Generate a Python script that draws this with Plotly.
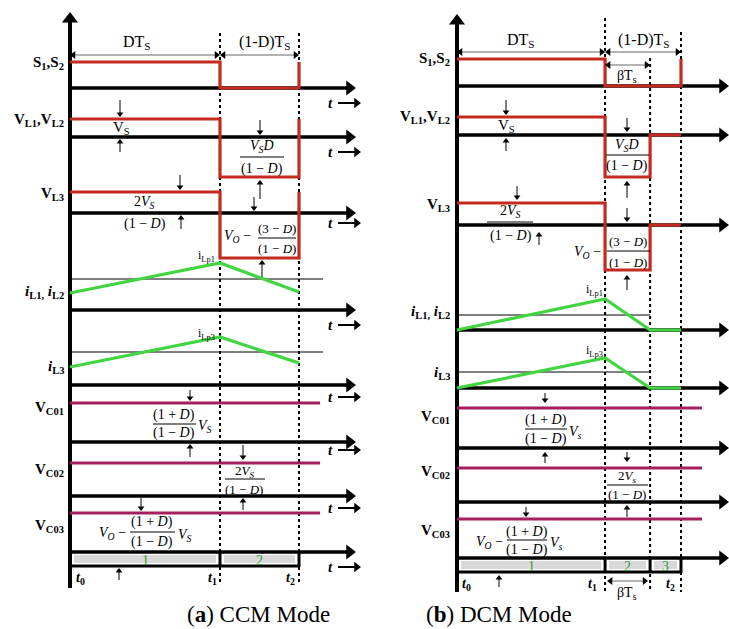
import plotly.graph_objects as go

# ---------------- data (time in units of Ts) ----------------
ccm_times = [0.0, 0.655, 1.0]                 # t0, t1, t2
dcm_times = [0.0, 0.661, 0.862, 1.0]          # t0, t1, t1+βTs, t2

row_labels = ["<b>S<sub>1</sub>,S<sub>2</sub></b>",
              "<b>V<sub>L1</sub>,V<sub>L2</sub></b>",
              "<b>V<sub>L3</sub></b>",
              "<b><i>i</i><sub>L1,</sub> <i>i</i><sub>L2</sub></b>",
              "<b><i>i</i><sub>L3</sub></b>",
              "<b>V<sub>C01</sub></b>",
              "<b>V<sub>C02</sub></b>",
              "<b>V<sub>C03</sub></b>"]

# levels per interval (diagram units above each row's time axis)
ccm_S = [26, 0]
ccm_VL12 = [18, -40]
ccm_VL3 = [21, -45]
dcm_S = [27, 0, 0]
dcm_VL12 = [18, -42, 0]
dcm_VL3 = [22, -45, 0]

# inductor currents at each time instant, and their average levels
ccm_iL12 = [17, 47, 18]
ccm_iL3 = [18, 48, 22]
ccm_iL_avg = [31, 33]
dcm_iL12 = [0, 31, 0, 0]
dcm_iL3 = [0, 30, 0, 0]
dcm_iL_avg = [15, 16]

# capacitor voltages (constant)
ccm_VC = [39, 33, 39]
dcm_VC = [40, 34, 39]

ccm_intervals = ["1", "2"]
dcm_intervals = ["1", "2", "3"]

# ---------------- style / layout ----------------
W, H = 729, 629
FONT = "Liberation Serif"
RED = "#c42b1f"
GREEN = "#41d641"
MAG = "#a61f5c"
GRAYFILL = "#d9d9d9"
LBLGREEN = "#2e9e38"

PA = dict(xa="x", org=70, span=229, lo=0, hi=364,
          rows=[88, 137, 213, 310, 385, 442, 496, 552],
          label_y=[63, 120, 194, 292, 367, 408, 470, 526], label_x=66,
          tip=356, vtop=12, vbot=588, dot_top=[None, 33, 33], dot_bot=585,
          vc_end=1.092, avg_end=1.105, bar_h=14, tlab_x=326, t_partial=False)
PB = dict(xa="x2", org=457, span=224, lo=364, hi=729,
          rows=[86, 135, 225, 330, 388, 448, 502, 558],
          label_y=[59, 117, 205, 312, 373, 417, 472, 531], label_x=452,
          tip=729, vtop=14, vbot=592, dot_top=[None, 18, 58, 32], dot_bot=592,
          vc_end=1.094, avg_end=None, bar_h=14, tlab_x=723, t_partial=True)


def T(p, px):
    return (px - p["org"]) / p["span"]


fig = go.Figure()
ann = []
shapes = []


def add_line(p, xs, ys, color, width, dash=None):
    fig.add_trace(go.Scatter(x=xs, y=ys, xaxis=p["xa"], yaxis="y", mode="lines",
                             line=dict(color=color, width=width, dash=dash),
                             hoverinfo="skip", showlegend=False))


def head(p, x, y, dx, dy, width=1, msize=6, color="black", shaft=True):
    """Arrow whose tip is at (x, y); tail offset (dx, dy) in pixels."""
    sx = 1.0 / p["span"]
    if abs(dx) >= abs(dy):
        sym = "triangle-right" if dx < 0 else "triangle-left"
        d = (-1 if dx < 0 else 1)
        cx, cy = x + d * (msize / 2) * sx, y
        lx, ly = x + d * (msize * 0.6) * sx, y
    else:
        sym = "triangle-down" if dy < 0 else "triangle-up"
        d = (-1 if dy < 0 else 1)
        cx, cy = x, y + d * msize / 2
        lx, ly = x, y + d * msize * 0.6
    if shaft:
        add_line(p, [x + dx * sx, lx], [y + dy, ly], color, width)
    fig.add_trace(go.Scatter(x=[cx], y=[cy], xaxis=p["xa"], yaxis="y", mode="markers",
                             marker=dict(symbol=sym, size=msize, color=color,
                                         line=dict(width=0)),
                             hoverinfo="skip", showlegend=False))


def txt(p, x, y, s, size=14, anchor="center", color="black"):
    ann.append(dict(x=x, y=y, xref=p["xa"], yref="y", text=s, showarrow=False,
                    xanchor=anchor, yanchor="middle",
                    font=dict(family=FONT, size=size, color=color)))


def bar(p, x0, x1, y):
    shapes.append(dict(type="line", xref=p["xa"], yref="y", x0=x0, x1=x1, y0=y, y1=y,
                       line=dict(color="black", width=1)))


def step(times, levels, wrap):
    xs, ys = [], []
    for i, lv in enumerate(levels):
        xs += [times[i], times[i + 1]]
        ys += [lv, lv]
    if wrap:
        xs.append(times[-1])
        ys.append(levels[0])
    return xs, ys


def draw_panel(p, times, S, VL12, VL3, iL12, iL3, iavg, VC, intervals, wrap_vl):
    rows = p["rows"]
    # dotted time markers
    for k in range(1, len(times)):
        add_line(p, [times[k], times[k]], [p["dot_top"][k], p["dot_bot"]], "black", 2, "dot")
    # vertical axis
    add_line(p, [0, 0], [p["vbot"], p["vtop"] + 8], "black", 4)
    head(p, 0, p["vtop"], 0, 14, msize=14, shaft=False)
    # horizontal time axes
    tip = T(p, p["tip"])
    body = T(p, p["tip"] - 8)
    for r in rows:
        add_line(p, [0, body], [r, r], "black", 3.5)
        head(p, tip, r, -14, 0, msize=13, shaft=False)
    # switch signal and inductor voltages
    for r, lv, wrap in [(0, S, True), (1, VL12, wrap_vl), (2, VL3, wrap_vl)]:
        xs, ys = step(times, lv, wrap)
        add_line(p, xs, [rows[r] - v for v in ys], RED, 3.2)
    # inductor currents
    avg_end = p["avg_end"] if p["avg_end"] is not None else times[2]
    for r, cur, av in [(3, iL12, iavg[0]), (4, iL3, iavg[1])]:
        add_line(p, [0, avg_end], [rows[r] - av] * 2, "black", 1)
        add_line(p, times, [rows[r] - v for v in cur], GREEN, 3.2)
    # capacitor voltages
    for r, v in zip([5, 6, 7], VC):
        add_line(p, [0, p["vc_end"]], [rows[r] - v] * 2, MAG, 3)
    # interval bar
    top = rows[7]
    bot = top + p["bar_h"]
    inset = 4 / p["span"]
    for i, lab in enumerate(intervals):
        shapes.append(dict(type="rect", xref=p["xa"], yref="y", layer="below",
                           x0=times[i] + inset, x1=times[i + 1] - inset,
                           y0=top + 3, y1=bot - 3, fillcolor=GRAYFILL, line=dict(width=0)))
        txt(p, (times[i] + times[i + 1]) / 2, (top + bot) / 2 + 1, lab, 14, color=LBLGREEN)
    add_line(p, [0, times[-1]], [bot, bot], "black", 3)
    for t in times[1:]:
        add_line(p, [t, t], [top, bot + 1], "black", 3)
    # row labels
    for s, yy in zip(row_labels, p["label_y"]):
        txt(p, T(p, p["label_x"]), yy, s, 15, anchor="right")
    # "t ->" labels (panel b's are cut by the right edge in the original)
    if not p["t_partial"]:
        offs = [15, 15, 10, 15, 12, 8, 12, 15]
        for r, o in zip(rows, offs):
            txt(p, T(p, p["tlab_x"]), r + o, "<b><i>t</i></b>", 15, anchor="left")
            head(p, T(p, 361), r + o, -23, 0, width=2, msize=9)


def dim_arrow(p, x0, x1, y):
    add_line(p, [x0 + 4 / p["span"], x1 - 4 / p["span"]], [y, y], "#9a9a9a", 1.3)
    head(p, x0, y, 9, 0, msize=7, shaft=False)
    head(p, x1, y, -9, 0, msize=7, shaft=False)


draw_panel(PA, ccm_times, ccm_S, ccm_VL12, ccm_VL3, ccm_iL12, ccm_iL3, ccm_iL_avg,
           ccm_VC, ccm_intervals, True)
draw_panel(PB, dcm_times, dcm_S, dcm_VL12, dcm_VL3, dcm_iL12, dcm_iL3, dcm_iL_avg,
           dcm_VC, dcm_intervals, False)

# ---------------- annotations panel (a) ----------------
p = PA
t0, t1, t2 = ccm_times
dim_arrow(p, t0, t1, 55)
dim_arrow(p, t1, t2, 55)
txt(p, T(p, 137), 42, "DT<sub>S</sub>", 16)
txt(p, T(p, 265), 42, "(1-D)T<sub>S</sub>", 16)
for hx, hy, ty in [(120, 117, 100), (120, 139, 152), (260, 135, 120), (260, 180, 199),
                   (180, 190, 175), (181, 215, 229), (254, 211, 197), (262, 260, 277),
                   (190, 401, 390), (190, 444, 457), (243, 460, 445), (243, 498, 510),
                   (141, 511, 498), (119, 568, 580)]:
    head(p, T(p, hx), hy, 0, ty - hy)
txt(p, T(p, 121), 128, "V<sub>S</sub>", 15)
txt(p, T(p, 262), 146, "<i>V<sub>S</sub>D</i>", 14)
bar(p, T(p, 240), T(p, 284), 157)
txt(p, T(p, 262), 169, "(1 − <i>D</i>)", 14)
txt(p, T(p, 144), 202, "2<i>V<sub>S</sub></i>", 14)
txt(p, T(p, 145), 224, "(1 − <i>D</i>)", 14)
txt(p, T(p, 253), 236, "<i>V<sub>O</sub></i> −", 14, anchor="right")
txt(p, T(p, 277), 228, "(3 − <i>D</i>)", 13)
bar(p, T(p, 258), T(p, 296), 238)
txt(p, T(p, 277), 248, "(1 − <i>D</i>)", 13)
txt(p, T(p, 206), 256, "i<sub>Lp1</sub>", 12)
txt(p, T(p, 206), 334, "i<sub>Lp3</sub>", 12)
txt(p, T(p, 174), 415, "(1 + <i>D</i>)", 14)
bar(p, T(p, 153), T(p, 196), 424)
txt(p, T(p, 174), 433, "(1 − <i>D</i>)", 14)
txt(p, T(p, 196), 426, "<i>V<sub>S</sub></i>", 14, anchor="left")
txt(p, T(p, 244), 471, "2<i>V<sub>S</sub></i>", 13)
bar(p, T(p, 225), T(p, 265), 479)
txt(p, T(p, 244), 489, "(1 − <i>D</i>)", 13)
txt(p, T(p, 128), 533, "<i>V<sub>O</sub></i> −", 14, anchor="right")
txt(p, T(p, 152), 522, "(1 + <i>D</i>)", 14)
bar(p, T(p, 130), T(p, 175), 532)
txt(p, T(p, 152), 542, "(1 − <i>D</i>)", 14)
txt(p, T(p, 176), 535, "<i>V<sub>S</sub></i>", 14, anchor="left")
txt(p, T(p, 80), 578, "<b><i>t</i><sub>0</sub></b>", 14)
txt(p, T(p, 212), 578, "<b><i>t</i><sub>1</sub></b>", 14)
txt(p, T(p, 290), 578, "<b><i>t</i><sub>2</sub></b>", 14)

# ---------------- annotations panel (b) ----------------
p = PB
u0, u1, ub, u2 = dcm_times
dim_arrow(p, u0, u1, 52)
dim_arrow(p, u1, u2, 52)
dim_arrow(p, u1, ub, 65)
dim_arrow(p, u1 + 2 / p["span"], ub - 2 / p["span"], 581)
txt(p, T(p, 521), 40, "DT<sub>S</sub>", 16)
txt(p, T(p, 644), 40, "(1-D)T<sub>S</sub>", 16)
txt(p, T(p, 627), 76, "βT<sub>s</sub>", 14)
txt(p, T(p, 627), 593, "βT<sub>s</sub>", 14)
for hx, hy, ty in [(506, 115, 100), (506, 138, 151), (627, 132, 118), (627, 181, 198),
                   (517, 200, 186), (539, 232, 245), (627, 222, 208), (627, 275, 290),
                   (545, 403, 393), (545, 452, 463), (627, 462, 452), (627, 505, 517),
                   (526, 517, 507), (499, 575, 587)]:
    head(p, T(p, hx), hy, 0, ty - hy)
txt(p, T(p, 506), 126, "V<sub>S</sub>", 15)
txt(p, T(p, 627), 145, "<i>V<sub>S</sub>D</i>", 14)
bar(p, T(p, 606), T(p, 649), 155)
txt(p, T(p, 627), 166, "(1 − <i>D</i>)", 14)
txt(p, T(p, 510), 211, "2<i>V<sub>S</sub></i>", 14)
bar(p, T(p, 487), T(p, 533), 222)
txt(p, T(p, 511), 236, "(1 − <i>D</i>)", 14)
txt(p, T(p, 603), 252, "<i>V<sub>O</sub></i> −", 14, anchor="right")
txt(p, T(p, 628), 241, "(3 − <i>D</i>)", 13)
bar(p, T(p, 607), T(p, 650), 251)
txt(p, T(p, 628), 262, "(1 − <i>D</i>)", 13)
txt(p, T(p, 594), 290, "i<sub>Lp1</sub>", 12)
txt(p, T(p, 594), 351, "i<sub>Lp3</sub>", 12)
txt(p, T(p, 546), 420, "(1 + <i>D</i>)", 14)
bar(p, T(p, 525), T(p, 567), 429)
txt(p, T(p, 546), 439, "(1 − <i>D</i>)", 14)
txt(p, T(p, 567), 432, "<i>V<sub>s</sub></i>", 14, anchor="left")
txt(p, T(p, 627), 476, "2<i>V<sub>s</sub></i>", 13)
bar(p, T(p, 607), T(p, 648), 485)
txt(p, T(p, 627), 494, "(1 − <i>D</i>)", 13)
txt(p, T(p, 505), 542, "<i>V<sub>O</sub></i> −", 14, anchor="right")
txt(p, T(p, 527), 532, "(1 + <i>D</i>)", 14)
bar(p, T(p, 507), T(p, 547), 540)
txt(p, T(p, 527), 550, "(1 − <i>D</i>)", 14)
txt(p, T(p, 548), 543, "<i>V<sub>s</sub></i>", 14, anchor="left")
txt(p, T(p, 466), 584, "<b><i>t</i><sub>0</sub></b>", 14)
txt(p, T(p, 592), 584, "<b><i>t</i><sub>1</sub></b>", 14)
txt(p, T(p, 670), 584, "<b><i>t</i><sub>2</sub></b>", 14)

# captions
ann.append(dict(x=185 / W, y=614, xref="paper", yref="y", showarrow=False, yanchor="middle",
                text="(<b>a</b>) CCM Mode", font=dict(family=FONT, size=23, color="black")))
ann.append(dict(x=574 / W, y=614, xref="paper", yref="y", showarrow=False, yanchor="middle",
                text="(<b>b</b>) DCM Mode", font=dict(family=FONT, size=23, color="black")))

ax_common = dict(visible=False, showgrid=False, zeroline=False, fixedrange=True)
fig.update_layout(
    width=W, height=H, margin=dict(l=0, r=0, t=0, b=0),
    paper_bgcolor="white", plot_bgcolor="white", showlegend=False,
    xaxis=dict(domain=[0, PA["hi"] / W], range=[T(PA, PA["lo"]), T(PA, PA["hi"])], anchor="y", **ax_common),
    xaxis2=dict(domain=[PB["lo"] / W, 1], range=[T(PB, PB["lo"]), T(PB, PB["hi"])], anchor="y", **ax_common),
    yaxis=dict(domain=[0, 1], range=[H, 0], **ax_common),
    annotations=ann, shapes=shapes,
)

fig.write_html("out.html", config={"displayModeBar": False},
               post_script="document.body.style.margin='0';document.body.style.overflow='hidden';")
